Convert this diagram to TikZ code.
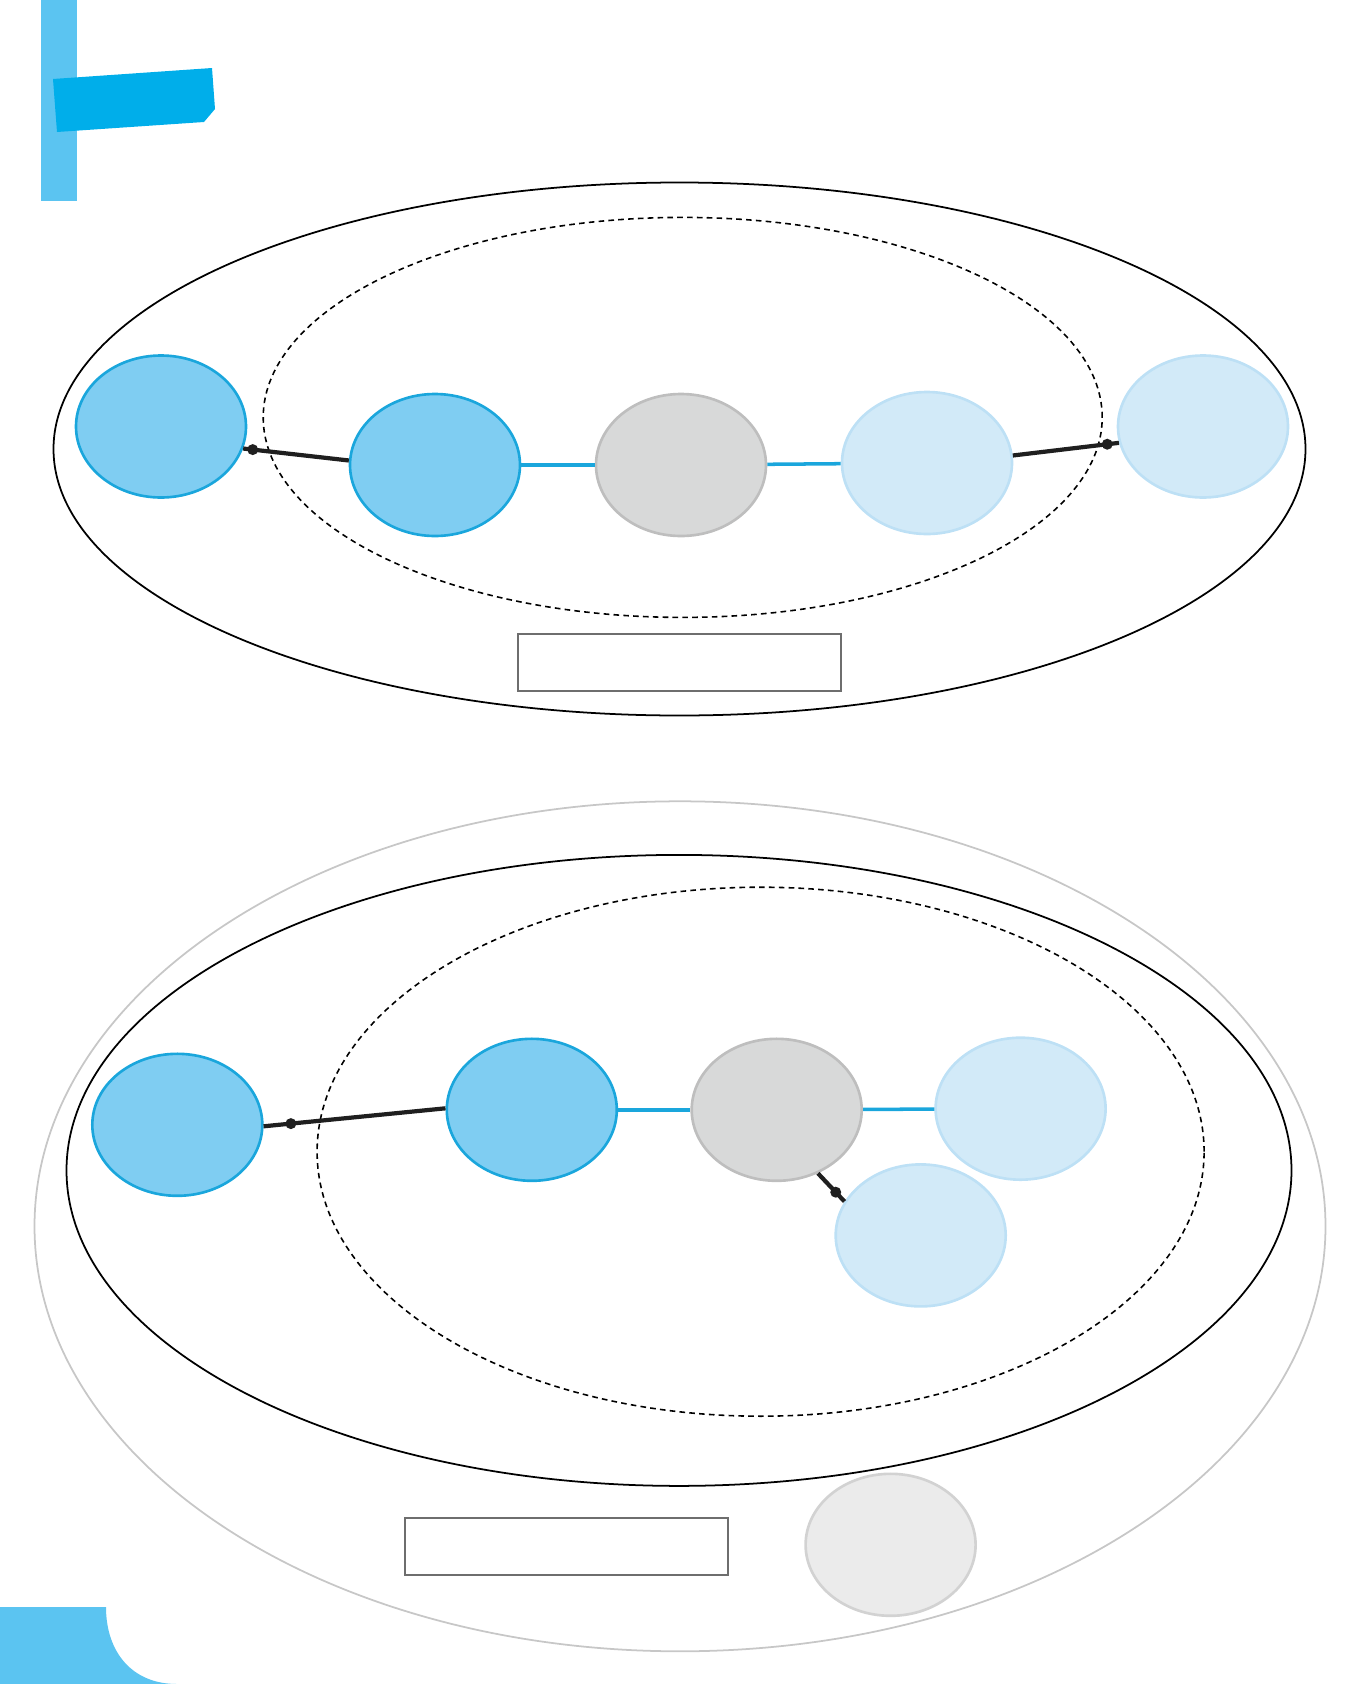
\documentclass[tikz,border=0pt]{standalone}
\usetikzlibrary{shapes.geometric}
\definecolor{cyanbar}{RGB}{91, 196, 241}
\definecolor{cyantab}{RGB}{0, 174, 234}
\definecolor{azulfill}{RGB}{127, 205, 242}
\definecolor{azulline}{RGB}{26, 166, 220}
\definecolor{clarofill}{RGB}{210, 234, 248}
\definecolor{claroline}{RGB}{189, 224, 245}
\definecolor{grisfill}{RGB}{216, 217, 217}
\definecolor{grisline}{RGB}{190, 190, 190}
\definecolor{grisfill2}{RGB}{235, 235, 235}
\definecolor{grisline2}{RGB}{210, 210, 210}
\definecolor{marcogris}{RGB}{110, 110, 110}

\tikzset{
  burbuja/.style={ellipse, minimum width=17mm, minimum height=14.2mm, inner sep=0pt, line width=0.75pt},
  activo/.style={burbuja, fill=azulfill, draw=azulline},
  nucleo/.style={burbuja, fill=grisfill, draw=grisline},
  pasivo/.style={burbuja, fill=clarofill, draw=claroline},
  externo/.style={burbuja, fill=grisfill2, draw=grisline2},
  enlace/.style={line width=1.2pt, black!88},
  ruta/.style={line width=1pt, azulline},
  punto/.style={circle, fill=black!88, inner sep=0pt, minimum size=1.1mm},
  limite/.style={ellipse, draw, inner sep=0pt, line width=0.5pt},
  zona/.style={ellipse, draw, dash pattern=on 1.6pt off 1.2pt, inner sep=0pt, line width=0.45pt},
  etiqueta/.style={draw=marcogris, line width=0.6pt, inner sep=0pt}
}

\begin{document}
\begin{tikzpicture}[x=0.1mm, y=-0.1mm]
\useasboundingbox (0,0) rectangle (1359,1684);

% --- Decoración ---
\fill[cyanbar] (41,0) rectangle (77,201);
\fill[cyantab] (53,79) -- (212,68) -- (215,109) -- (204,122) -- (57,132) -- cycle;
\fill[cyanbar] (0,1607) -- (106,1607) .. controls (106,1652) and (132,1684) .. (177,1684) -- (0,1684) -- cycle;

% --- Diagrama superior ---
\node[limite, minimum width=125.2mm, minimum height=53.3mm] (A) at (679.5,449) {};
\node[zona, minimum width=83.9mm, minimum height=40mm] (Az) at (682.7,417.4) {};
\node[etiqueta, minimum width=32.3mm, minimum height=5.7mm] (Ar) at (679.5,662.5) {};

\node[activo] (a1) at (161,426.5) {};
\node[activo] (a2) at (435,465) {};
\node[nucleo] (a3) at (681,465) {};
\node[pasivo] (a4) at (927,463) {};
\node[pasivo] (a5) at (1203,426.5) {};

\draw[enlace] (a1.-15) -- (a2.177) node[punto, pos=0.09] (pa) {};
\draw[ruta] (a2) -- (a3);
\draw[ruta] (a3) -- (a4);
\draw[enlace] (a4.5) -- (a5.191) node[punto, pos=0.89] (pb) {};

% --- Diagrama inferior ---
\node[limite, draw=black!22, minimum width=129.1mm, minimum height=85mm] (B) at (680,1226.3) {};
\node[limite, minimum width=122.5mm, minimum height=63.1mm] (Bi) at (679,1170.4) {};
\node[zona, minimum width=88.7mm, minimum height=52.9mm] (Bz) at (760.6,1151.7) {};
\node[etiqueta, minimum width=32.3mm, minimum height=5.7mm] (Br) at (566.7,1546.5) {};

\node[activo] (b1) at (177.3,1124.8) {};
\node[activo] (b2) at (531.8,1109.8) {};
\node[nucleo] (b3) at (776.7,1109.8) {};
\node[pasivo] (b4) at (1020.6,1108.7) {};
\node[pasivo] (b5) at (920.7,1235.4) {};
\node[externo] (b6) at (890.6,1544.8) {};

\draw[enlace] (b1.-1) -- (b2.179) node[punto, pos=0.15] (pc) {};
\draw[ruta] (b2) -- (b3);
\draw[ruta] (b3) -- (b4);
\draw[enlace] (b3.-57) -- (b5.156) node[punto, pos=0.67] (pd) {};

\end{tikzpicture}
\end{document}
